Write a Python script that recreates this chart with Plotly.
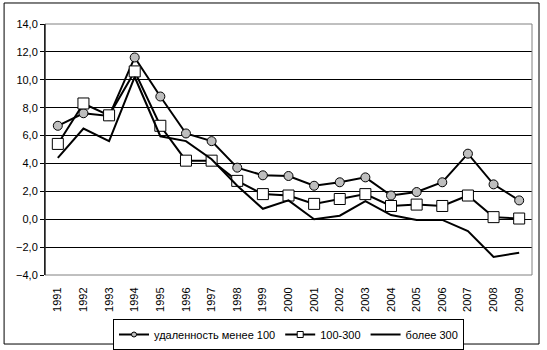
import plotly.graph_objects as go

years = [str(y) for y in range(1991, 2010)]
near_100 = [6.7, 7.6, 7.4, 11.6, 8.8, 6.15, 5.6, 3.7, 3.15, 3.1, 2.4, 2.65, 3.0, 1.7, 1.95, 2.65, 4.7, 2.5, 1.35]
mid_100_300 = [5.4, 8.3, 7.45, 10.6, 6.7, 4.2, 4.2, 2.75, 1.8, 1.7, 1.1, 1.45, 1.8, 0.95, 1.05, 0.95, 1.7, 0.15, 0.05]
over_300 = [4.4, 6.5, 5.6, 10.2, 5.95, 5.6, 4.3, 2.4, 0.75, 1.35, 0.0, 0.25, 1.3, 0.3, -0.05, -0.05, -0.85, -2.7, -2.4]
series_names = ["удаленность менее 100", "100-300", "более 300"]

y_min, y_max = -4.0, 14.0
x_idx = list(range(len(years)))

font = dict(family="Liberation Sans, Arial, sans-serif", size=11, color="black")
line_style = dict(color="black", width=2)

fig = go.Figure()
fig.add_trace(go.Scatter(
    x=x_idx, y=near_100, name=series_names[0], mode="lines+markers",
    line=line_style, showlegend=False,
    marker=dict(symbol="circle", size=9, color="#BEBEBE", line=dict(color="black", width=1)),
))
fig.add_trace(go.Scatter(
    x=x_idx, y=mid_100_300, name=series_names[1], mode="lines+markers",
    line=line_style, showlegend=False,
    marker=dict(symbol="square", size=11, color="white", line=dict(color="black", width=1)),
))
fig.add_trace(go.Scatter(
    x=x_idx, y=over_300, name=series_names[2], mode="lines",
    line=line_style, showlegend=False,
))

# Legend entries with the small key markers
fig.add_trace(go.Scatter(
    x=[None], y=[None], name=series_names[0], mode="lines+markers",
    line=line_style,
    marker=dict(symbol="circle", size=5, color="#BEBEBE", line=dict(color="black", width=1)),
))
fig.add_trace(go.Scatter(
    x=[None], y=[None], name=series_names[1], mode="lines+markers",
    line=line_style,
    marker=dict(symbol="square", size=6, color="white", line=dict(color="black", width=1)),
))
fig.add_trace(go.Scatter(
    x=[None], y=[None], name=series_names[2], mode="lines", line=line_style,
))

# Category axis drawn along y = 0 with tick marks between the years
zero_pos = (0 - y_min) / (y_max - y_min)
fig.update_layout(
    xaxis=dict(
        range=[-0.5, len(years) - 0.5], tickvals=x_idx, ticktext=years,
        tickangle=-90, showgrid=False, zeroline=False, showline=False,
        ticks="outside", ticklen=7, tickcolor="rgba(0,0,0,0)", tickfont=font,
        automargin=False,
    ),
    xaxis2=dict(
        range=[-0.5, len(years) - 0.5], overlaying="x", anchor="free",
        position=zero_pos, side="bottom",
        tickvals=[i + 0.5 for i in x_idx[:-1]] + [-0.5],
        ticks="outside", ticklen=4, tickcolor="black", tickwidth=1,
        showticklabels=False, showline=True, linecolor="black", linewidth=1,
        showgrid=False, zeroline=False, automargin=False,
    ),
    yaxis=dict(
        range=[y_min, y_max], dtick=2, tickformat=".1f",
        showgrid=True, gridcolor="black", gridwidth=1,
        zeroline=False, showline=True, linecolor="black", linewidth=1,
        ticks="outside", ticklen=4, tickcolor="black", tickfont=font,
        automargin=False,
    ),
    separators=", ",
    width=547, height=350,
    margin=dict(l=45, r=15, t=24, b=75, autoexpand=False),
    paper_bgcolor="white", plot_bgcolor="white",
    showlegend=True,
    legend=dict(
        orientation="h", x=0.5, xanchor="center",
        yref="container", y=(350 - 319) / 350, yanchor="top",
        bordercolor="black", borderwidth=1, font=font,
        itemwidth=30, tracegroupgap=0, entrywidthmode="pixels",
    ),
    font=font,
)

# Plot-area frame (grey) and outer chart frame (black)
fig.add_shape(type="rect", xref="paper", yref="paper", x0=0, x1=1, y0=0, y1=1,
              line=dict(color="#808080", width=1), layer="above")
fig.add_shape(type="line", xref="paper", yref="paper", x0=0, x1=0, y0=0, y1=1,
              line=dict(color="black", width=1), layer="above")
fig.add_shape(type="rect", xref="paper", yref="paper",
              x0=-0.084, x1=1.0144, y0=-0.275, y1=1.0837,
              line=dict(color="black", width=1), layer="above")

fig.write_html("out.html")
